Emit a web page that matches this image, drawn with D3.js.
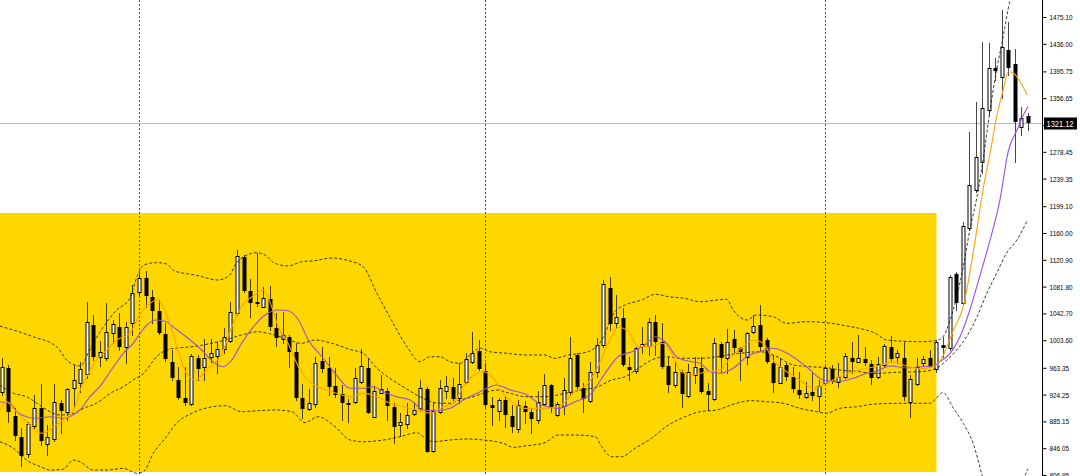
<!DOCTYPE html>
<html><head><meta charset="utf-8">
<script src="https://cdn.jsdelivr.net/npm/d3@7"></script>
<style>html,body{margin:0;padding:0;background:#fff;overflow:hidden}</style>
</head><body>
<svg id="c" width="1080" height="476"></svg>
<script>
// ---- DATA ----
const opens = [928.5,962.6,893.0,862.8,837.2,878.4,905.1,852.2,859.0,911.6,
899.3,933.4,940.7,954.3,1025.8,978.7,977.2,1014.5,1023.3,993.2,
1028.3,1073.5,1093.9,1066.2,1046.2,1012.7,971.4,945.5,918.8,910.1,
978.1,964.9,978.7,980.6,990.3,1002.9,1042.9,1124.5,1075.4,1059.8,
1052.5,1063.7,1021.0,1004.9,1007.8,986.0,919.7,902.8,910.5,973.7,
963.0,937.2,924.7,911.6,913.0,943.1,962.6,892.0,927.0,929.5,
906.6,879.9,880.9,895.5,904.2,932.4,842.0,899.3,929.9,935.8,
918.8,943.1,971.4,987.9,958.7,909.5,900.3,916.4,893.5,874.1,
908.1,899.3,887.2,910.5,938.2,894.5,908.1,928.5,982.0,934.3,
915.3,957.6,996.6,1080.2,1029.1,1035.5,964.9,958.7,995.1,995.1,
1030.6,1001.4,966.4,938.2,956.8,922.6,952.8,963.5,929.5,917.8,
998.1,977.2,1004.9,991.8,978.7,1016.0,1025.8,1003.9,970.8,941.6,
967.4,950.4,931.0,921.2,928.5,922.6,940.7,961.2,943.1,950.4,
977.2,972.2,976.2,968.4,949.5,967.4,994.1,979.5,977.2,913.9,
939.7,969.9,977.2,961.2,996.6,992.7,1099.7,1057.4,1167.7,1222.7,
1264.0,1339.4,1400.3,1387.1,1427.0,1406.1,1315.1,1330.7];
const highs = [977.6,967.4,904.7,875.5,884.7,923.7,939.7,879.9,939.7,916.4,
933.9,967.4,971.8,1059.8,1040.4,1002.9,1057.4,1033.1,1043.7,1030.2,
1084.1,1099.7,1105.0,1076.8,1062.2,1028.7,989.3,964.9,964.9,983.5,
982.0,1005.4,1005.4,1001.4,1021.0,1059.8,1135.2,1127.9,1092.9,1130.4,
1081.7,1082.7,1042.9,1045.2,1011.2,999.5,939.7,932.0,979.5,994.1,
979.5,962.6,938.2,917.8,962.6,990.3,977.2,936.8,952.8,933.9,
912.0,897.0,911.6,913.9,945.5,935.8,913.0,945.5,951.4,948.0,
969.9,984.5,1016.0,1003.9,969.9,921.2,919.3,921.2,909.1,916.4,
914.9,904.7,929.5,953.9,939.7,913.9,948.0,1008.7,984.5,940.7,
972.2,1006.4,1091.4,1096.2,1069.5,1050.1,979.5,994.1,1023.3,1035.5,
1040.4,1028.3,978.7,972.2,960.1,968.9,979.5,979.5,940.7,1006.4,
1001.4,1019.5,1018.5,994.1,1016.0,1040.4,1055.0,1006.4,982.0,977.2,
970.3,964.9,957.6,943.1,955.3,945.5,966.0,967.4,969.9,984.5,
1001.4,1011.2,993.2,974.7,979.5,997.6,1009.7,989.3,1001.4,952.8,
978.1,980.6,989.3,1003.9,1008.7,1098.7,1103.5,1176.5,1307.8,1351.5,
1439.1,1436.7,1415.3,1485.3,1468.2,1428.0,1344.2,1335.1];
const lows = [923.7,884.7,858.0,820.1,833.7,875.5,850.7,836.1,856.6,868.2,
887.2,906.6,928.5,948.5,974.7,966.0,974.7,999.5,989.3,970.8,
1011.2,1069.5,1052.5,1028.3,1012.7,973.3,945.5,917.8,909.1,909.1,
945.5,945.5,971.8,955.3,984.9,1001.0,1040.4,1073.9,1037.9,1053.5,
1052.0,1018.5,995.1,999.1,964.1,916.4,889.7,901.8,906.6,957.6,
923.7,921.2,887.2,884.7,911.6,941.2,897.0,891.6,926.1,887.2,
854.1,864.3,875.5,894.5,901.8,840.1,840.9,897.0,918.8,916.4,
911.6,940.7,969.9,960.1,906.6,879.9,887.2,877.4,870.1,870.1,
882.4,867.8,882.8,909.1,899.3,893.0,895.9,923.7,931.0,899.3,
913.9,950.4,994.1,1018.5,1021.0,966.0,945.5,955.3,984.5,982.0,
982.0,962.6,928.5,935.8,906.6,921.2,940.7,926.6,901.8,916.4,
957.6,955.3,984.5,945.5,968.4,1014.1,989.3,969.9,928.5,940.7,
945.5,928.5,918.8,919.3,916.4,900.8,939.7,941.2,935.8,948.5,
955.3,971.4,967.4,939.7,948.5,964.9,972.2,970.8,916.4,892.0,
938.2,966.0,964.1,957.6,978.7,989.3,1047.7,1055.0,1164.4,1220.2,
1247.1,1332.1,1383.2,1356.5,1390.5,1264.0,1303.0,1310.3];
const closes = [964.9,899.3,863.9,834.7,881.4,905.1,856.6,862.0,913.0,900.8,
932.0,945.5,961.2,1030.6,979.5,986.0,1015.1,1026.8,994.1,1022.4,
1072.9,1093.9,1068.1,1046.6,1014.5,976.2,948.0,919.7,911.6,981.0,
961.2,978.1,984.5,990.8,1008.7,1045.2,1126.9,1075.8,1058.3,1056.4,
1064.7,1022.4,1006.4,1011.2,986.0,918.8,902.8,911.6,970.8,961.6,
935.8,923.7,911.6,910.5,948.9,966.0,897.8,929.5,932.0,908.1,
877.4,884.3,894.5,901.8,933.4,840.9,900.8,933.4,937.2,917.8,
939.3,975.7,984.5,961.6,909.1,904.2,916.4,894.5,877.4,909.1,
899.3,888.2,913.9,938.2,904.2,910.1,931.0,977.2,935.8,917.4,
957.6,996.6,1085.2,1026.8,1037.0,967.4,960.1,991.8,997.6,1030.6,
1000.5,964.1,938.2,957.6,925.1,957.6,964.9,928.5,923.7,1000.0,
978.1,1001.4,991.8,986.8,1014.5,1024.8,993.2,972.2,941.6,964.9,
949.5,932.4,923.7,926.1,922.6,937.2,963.5,943.1,949.5,981.0,
972.2,978.1,969.9,948.9,968.9,995.1,976.2,984.5,920.3,946.6,
964.9,976.2,964.9,1001.4,991.8,1095.4,1057.4,1170.2,1230.0,1271.3,
1342.8,1400.3,1396.3,1431.8,1400.3,1322.4,1327.3,1321.12];

// indicator values: [bar index, price]
const upperBand = [[-0.3,1024.3],[4.8,1008.7],[8.4,994.1],[10.2,972.2],[12,966],[13.5,990],[15,1015],[17.6,1047.7],[19.6,1064.7],[20.7,1096.2],[21.7,1113.3],[23.7,1116.7],[25.2,1114.8],[26.5,1104.5],[29.6,1098.7],[33.1,1091.4],[34.9,1098.7],[35.7,1113.3],[37.2,1126.4],[39.0,1131.3],[40.3,1127.9],[41.8,1115.8],[43.8,1111.9],[45.9,1118.1],[47.9,1119.6],[50.5,1123.5],[53.3,1119],[55.3,1110.8],[57.4,1072.0],[59.9,1028.2],[62.0,994.1],[64.0,972.2],[65.5,979.5],[67.0,979.5],[68.6,972.2],[70.1,969.9],[71.6,982.0],[73.2,991.8],[74.7,986.8],[77.3,984.5],[80.1,982.0],[83.1,982.0],[84.6,977.2],[86.7,982.0],[89.7,986.8],[91.8,1003.9],[93.8,1045.2],[95.4,1055.0],[97.9,1062.2],[100.0,1070.6],[102.0,1067.1],[104.5,1064.7],[106.8,1059.8],[110.9,1063.3],[111.9,1047.7],[114.0,1033.1],[115.5,1040.4],[118.0,1037.9],[120.1,1028.2],[123.1,1030.6],[126.2,1029.1],[129.3,1024.3],[131.8,1019.5],[133.6,1014],[135.4,1003.9],[140.5,1001.4],[142.9,1002.9],[144.0,1008.7],[145.1,1033.1],[146.1,1067.1],[147.1,1110.8],[148.1,1164.4],[149.2,1213.0],[150.2,1271.3],[151.2,1339.4],[152.2,1397.8],[153.2,1446.4],[154.2,1497.4],[155.2,1530],[157,1540]];
const middleBand = [[-0.3,938.2],[1.8,926.1],[3.8,921.2],[5.4,911.6],[6.9,901.8],[8.9,894.5],[11.0,897.0],[12.5,904.2],[14.5,911.6],[16.6,926.1],[18.6,935.8],[20.1,945.5],[21.7,955.3],[23.7,979.5],[25.2,989.3],[26.5,991.8],[29.1,994.1],[31.6,998.1],[34.2,1003.9],[36.7,1011.2],[39.2,1016.0],[40.7,1013.7],[43.3,1006.4],[45.9,999.1],[47.9,1003.9],[50.5,999.1],[53.3,990],[55.3,984.5],[57.4,962.6],[59.4,948.0],[61.4,935.8],[63.5,923.7],[65.0,916.4],[67.0,911.6],[68.6,911.6],[70.1,916.4],[72.1,921.2],[73.7,926.1],[75.7,930.9],[77.8,926.1],[80.1,921.2],[83.1,921.2],[86.2,926.1],[88.7,930.9],[91.2,935.8],[93.3,945.5],[95.4,950.4],[97.4,962.6],[99.4,974.7],[101.5,979.5],[104.0,977.2],[106.8,977.2],[112.9,984.5],[116.0,986.8],[118.6,979.5],[121.1,967.4],[123.7,964.9],[126.2,963.5],[128.2,960.1],[131.3,957.6],[133.6,955.3],[137.4,957],[140.5,957.6],[143.0,962.6],[144.6,974.7],[146.1,989.3],[147.6,1008.7],[149.2,1037.9],[150.7,1072.0],[152.2,1101.2],[153.7,1130.4],[155.3,1149.8],[156.8,1176.5]];
const lowerBand = [[-0.3,855.5],[1.8,845.9],[3.8,828.8],[5.9,819.1],[7.4,814.2],[9.4,815.3],[11.0,828.8],[12.0,826.3],[14.0,814.2],[16.1,814.2],[18.6,816.7],[20.7,809.4],[21.7,811.8],[23.2,838.6],[25.2,862.8],[26.5,880],[29.1,897.0],[31.1,904.2],[34.2,908.1],[36.7,899.3],[39.3,900.8],[41.8,901.8],[44.4,899.3],[46.4,883.3],[48.4,892.0],[51.0,877.4],[53.3,858.0],[55.3,855.5],[58.4,858.0],[60.9,862.8],[63.5,868.6],[64.5,862.8],[66.0,855.5],[68.6,858.0],[71.1,859.5],[73.7,858.0],[76.7,853.2],[78.3,847.4],[80.1,849.3],[83.1,854.1],[85.1,865.3],[87.7,865.3],[90.8,862.8],[91.8,848.2],[93.3,833.6],[94.8,833.6],[96.9,845.9],[99.4,860.5],[102.0,879.9],[104.0,889.7],[106.8,899.3],[109.4,901.8],[112.4,911.6],[114.5,915.4],[117.0,913.9],[119.6,911.6],[122.1,904.2],[124.7,899.3],[126.2,896.9],[128.2,904.2],[130.8,906.6],[133.6,910.5],[138,911.6],[142,911.6],[144.0,927.0],[145.6,904.2],[147.1,882.4],[148.6,853.2],[149.9,809.4],[151,770],[153,745],[155,760],[156.3,800],[157,816]];
const maSlow = [[-0.3,913.9],[1.3,911.6],[2.3,899.3],[3.8,892.0],[5.4,889.7],[7.4,892.0],[9.4,889.7],[10.4,892.0],[12.0,901.8],[13.5,921.2],[15.0,935.8],[17.1,964.9],[18.6,984.5],[20.1,999.1],[21.2,1013.7],[22.2,1025.8],[23.7,1033.1],[25.2,1030.6],[26.5,1021.0],[28.5,1006.4],[30.6,989.3],[32.6,969.9],[33.9,964.9],[35.2,974.7],[36.7,999.1],[38.2,1019.5],[40.3,1040.4],[42.3,1047.7],[43.8,1046.6],[45.4,1033.1],[46.9,1003.9],[49.0,979.5],[51.0,955.3],[53.3,933.4],[55.3,933.4],[56.8,935.8],[58.4,928.5],[60.4,921.2],[62.5,916.4],[64.5,901.8],[66.5,900.8],[68.6,904.2],[70.6,916.4],[72.7,926.1],[74.2,933.4],[75.7,938.2],[77.8,930.9],[80.1,925.1],[82.6,909.1],[85.1,904.2],[87.7,913.9],[90.2,926.1],[92.3,955.3],[94.3,979.5],[96.4,986.8],[98.4,996.6],[99.9,1008.7],[101.5,1001.4],[103.5,977.2],[105.6,972.2],[106.8,969.9],[108.4,957.6],[109.9,955.3],[111.9,962.6],[114.0,979.5],[116.0,986.8],[118.0,991.8],[120.6,982.0],[123.1,964.9],[125.7,945.5],[127.7,943.1],[130.3,948.0],[132.3,955.3],[133.6,957.6],[136.0,966],[138.5,963],[140.5,964.9],[142.5,966.0],[143.5,972.2],[145.1,984.5],[146.6,1008.7],[148.1,1047.7],[149.6,1096.2],[151.2,1149.8],[152.7,1208.1],[154.0,1280],[155.3,1310],[156.3,1332.1],[157.0,1344.2]];
const maFast = [[-0.3,901.8],[0.8,913.9],[2.0,901.8],[3.8,884.7],[5.4,870.1],[6.4,867.8],[7.9,877.4],[9.4,887.2],[11.0,901.8],[12.0,930.9],[13.0,950.4],[14.5,974.7],[16.1,989.3],[17.6,1003.9],[19.6,1013.7],[21.2,1042.8],[22.7,1057.4],[23.7,1062.2],[24.7,1052.5],[25.7,1028.2],[26.5,1003.9],[28.0,960.1],[29.6,945.5],[31.6,962.6],[33.7,984.5],[35.2,1023.3],[36.7,1052.5],[38.7,1069.5],[40.0,1076.8],[41.3,1052.5],[42.3,1023.3],[43.8,999.1],[45.4,964.9],[46.9,945.5],[48.4,935.8],[50.5,928.5],[53.3,921.2],[55.3,926.1],[57.4,921.2],[59.4,911.6],[61.4,906.6],[63.5,901.8],[65.5,897.0],[67.6,906.6],[69.1,911.6],[70.6,935.8],[72.7,955.3],[73.7,957.6],[75.2,948.0],[76.7,926.1],[78.3,911.6],[80.1,904.2],[82.6,904.2],[85.1,906.6],[87.7,928.5],[89.7,940.7],[91.2,964.9],[92.8,999.1],[94.3,1022.4],[95.9,1016.0],[97.4,994.1],[98.9,994.1],[101.0,999.1],[102.5,984.5],[104.0,957.6],[105.6,952.8],[107.8,957.6],[109.9,960.1],[111.4,977.2],[113.4,994.1],[115.0,1003.9],[116.5,999.1],[118.0,974.7],[120.1,957.6],[122.1,945.5],[124.2,933.4],[126.2,940.7],[128.2,950.4],[130.3,957.6],[132.3,962.6],[133.6,964.9],[136.3,972],[138.5,966],[140.5,962],[142.5,964.9],[143.5,972.2],[144.6,994.1],[145.6,1018.5],[147.1,1052.5],[148.6,1130.4],[150.2,1227.5],[151.2,1276.3],[152.2,1329.6],[153.2,1368.6],[154.0,1395.3],[154.8,1393.0],[155.8,1380.7],[156.9,1361.3]];

const priceTicks = [1475.10,1436.00,1395.75,1356.65,1317.55,1278.45,1239.35,1199.10,1160.00,1120.90,1081.80,1042.70,1003.60,963.35,924.25,885.15,846.05,806.95];
const lastPrice = 1321.12;
const separatorBars = [21, 74, 126];
const zoneBars = [-3, 143];
const zonePrices = [811.3, 1189.2];

// ---- DRAW ----
const W = 1080, H = 476, axisX = 1042;
const x = d3.scaleLinear().domain([0, 157]).range([1.7, 1028]);
const y = d3.scaleLinear().domain([806.95, 1475.10]).range([475, 17]);
const svg = d3.select('#c');
svg.append('rect').attr('width', W).attr('height', H).attr('fill', '#fff');
svg.append('defs').append('clipPath').attr('id', 'plot')
  .append('rect').attr('x', 0).attr('y', 0).attr('width', axisX).attr('height', H);
const g = svg.append('g').attr('clip-path', 'url(#plot)');

// yellow zone
g.append('rect')
  .attr('x', x(zoneBars[0])).attr('y', Math.round(y(zonePrices[1])))
  .attr('width', x(zoneBars[1]) - x(zoneBars[0]))
  .attr('height', Math.round(y(zonePrices[0])) - Math.round(y(zonePrices[1])))
  .attr('fill', '#FFD700');

// period separators
g.selectAll('line.sep').data(separatorBars).join('line').attr('class', 'sep')
  .attr('x1', d => Math.round(x(d)) + 0.5).attr('x2', d => Math.round(x(d)) + 0.5)
  .attr('y1', 0).attr('y2', H)
  .attr('stroke', '#46557e').attr('stroke-width', 1).attr('stroke-dasharray', '2,2');

// current price line
const yl = Math.round(y(lastPrice)) + 0.5;
g.append('line').attr('x1', 0).attr('x2', axisX).attr('y1', yl).attr('y2', yl)
  .attr('stroke', '#b3bcc6').attr('stroke-width', 1);

// candles
const bars = d3.range(opens.length).map(i => ({i, o: opens[i], h: highs[i], l: lows[i], c: closes[i]}));
const cx = d => Math.round(x(d.i));
g.selectAll('line.wick').data(bars).join('line').attr('class', 'wick')
  .attr('x1', d => cx(d) + 0.5).attr('x2', d => cx(d) + 0.5)
  .attr('y1', d => Math.round(y(d.h))).attr('y2', d => Math.round(y(d.l)) + 1)
  .attr('stroke', '#000').attr('stroke-opacity', 0.72).attr('stroke-width', 1);
g.selectAll('rect.body').data(bars).join('rect').attr('class', 'body')
  .each(function(d) {
    const top = Math.round(y(Math.max(d.o, d.c)));
    const bot = Math.round(y(Math.min(d.o, d.c)));
    const sel = d3.select(this);
    if (d.c >= d.o) {
      sel.attr('x', cx(d) - 1).attr('y', top + 0.5).attr('width', 3).attr('height', Math.max(bot - top, 1))
        .attr('fill', '#fff').attr('stroke', '#000').attr('stroke-width', 1);
    } else {
      sel.attr('x', cx(d) - 1.5).attr('y', top).attr('width', 4).attr('height', Math.max(bot - top, 2))
        .attr('fill', '#000');
    }
  });

// indicators
const line = d3.line().x(d => x(d[0])).y(d => y(d[1])).curve(d3.curveMonotoneX);
[upperBand, middleBand, lowerBand].forEach(b => {
  g.append('path').attr('d', line(b)).attr('fill', 'none')
    .attr('stroke', '#1a1a1a').attr('stroke-width', 1).attr('stroke-dasharray', '3,2').attr('stroke-opacity', 0.85);
});
g.append('path').attr('d', line(maSlow)).attr('fill', 'none').attr('stroke', '#9a4fdc').attr('stroke-width', 1.1);
g.append('path').attr('d', line(maFast)).attr('fill', 'none').attr('stroke', '#ffa200').attr('stroke-width', 1.1);

// price axis
svg.append('line').attr('x1', axisX + 0.5).attr('x2', axisX + 0.5).attr('y1', 0).attr('y2', H)
  .attr('stroke', '#000').attr('stroke-width', 1);
const fmt = d3.format('.2f');
const axis = d3.axisRight(y).tickValues(priceTicks).tickSize(4).tickPadding(3).tickFormat(fmt);
const ag = svg.append('g').attr('transform', `translate(${axisX + 0.5},0)`).call(axis);
ag.select('.domain').remove();
ag.selectAll('.tick line').attr('stroke', '#000');
ag.selectAll('.tick text')
  .attr('font-family', 'Liberation Sans, Arial, sans-serif').attr('font-size', 8).attr('fill', '#000')
  .attr('textLength', d => fmt(d).length === 7 ? 23 : 19.5).attr('lengthAdjust', 'spacingAndGlyphs');
// the label hidden under the last-price tag is not shown
ag.selectAll('.tick text').filter(d => Math.abs(y(d) - y(lastPrice)) < 8).remove();

// last price tag
svg.append('rect').attr('x', axisX + 2).attr('y', yl - 6).attr('width', 33).attr('height', 12).attr('fill', '#000');
svg.append('text').attr('x', axisX + 4.5).attr('y', yl + 3.3)
  .attr('font-family', 'Liberation Sans, Arial, sans-serif').attr('font-size', 8.5).attr('fill', '#fff')
  .attr('textLength', 27).attr('lengthAdjust', 'spacingAndGlyphs').text(fmt(lastPrice));
</script>
</body></html>
